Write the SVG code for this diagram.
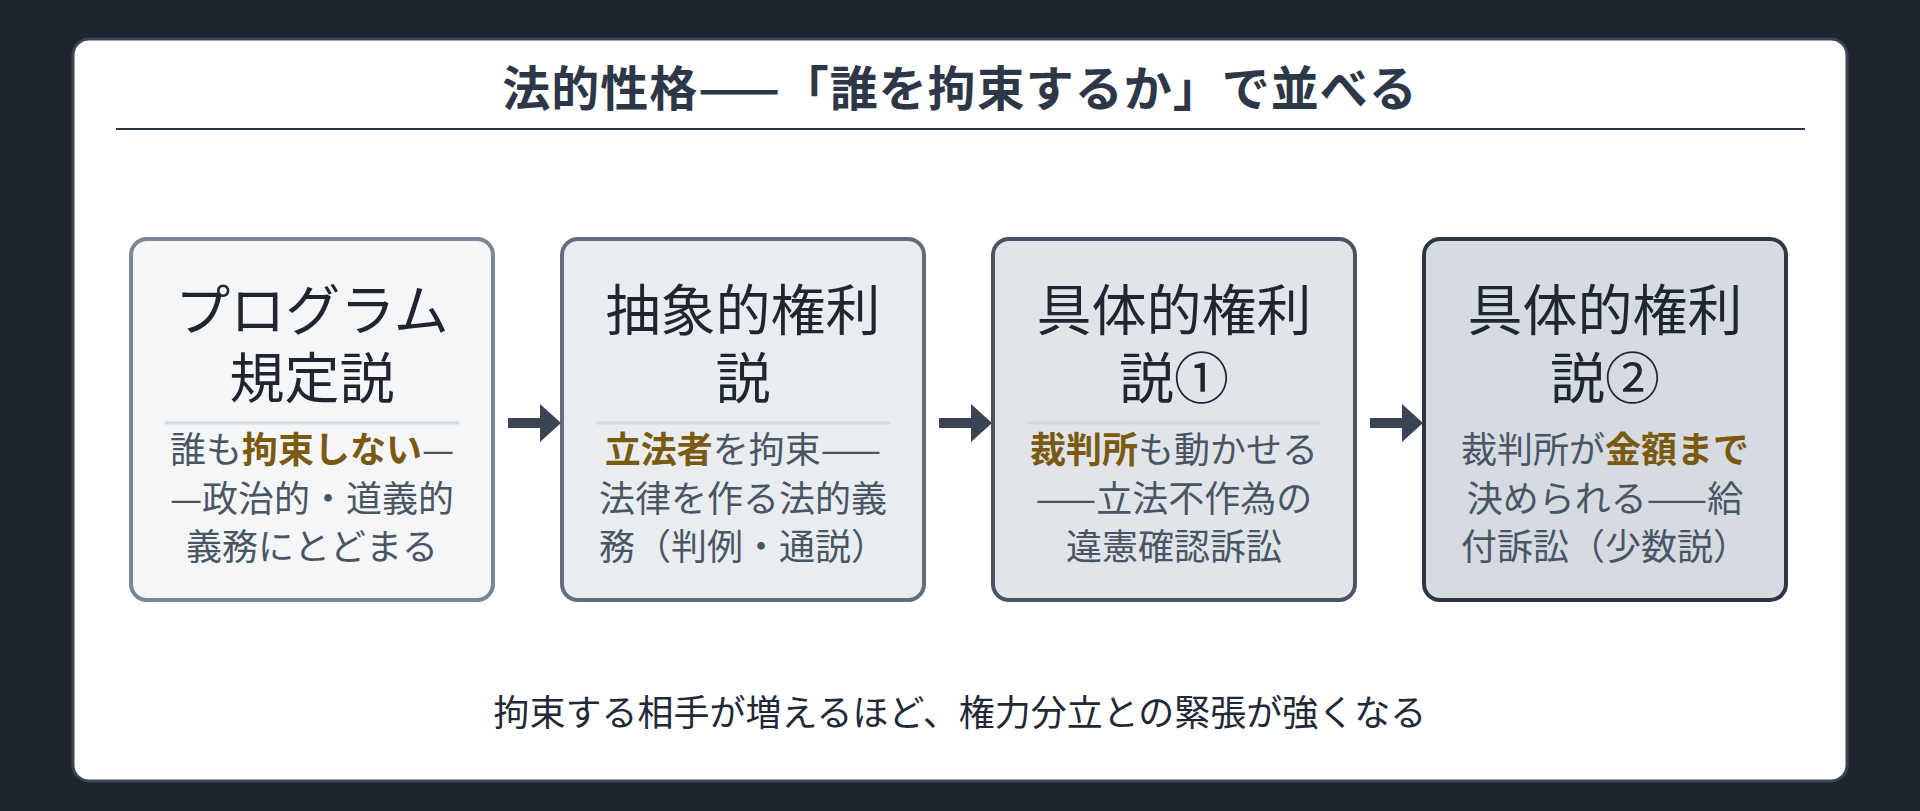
<svg xmlns="http://www.w3.org/2000/svg" width="1920" height="811" viewBox="0 0 1920 811">
<style>
text{font-family:"Noto Sans CJK JP","Noto Sans",sans-serif}
.t{font-size:55px;fill:#1f2630;text-anchor:middle}
.s{font-size:36px;fill:#4a5563;text-anchor:middle}
.h{fill:#7a5a10;font-weight:bold}
.sep{stroke:#d6d9dd;stroke-width:3}
.ar{fill:#3a4452}
</style>
<rect width="1920" height="811" fill="#1e2530"/>
<rect x="73" y="39" width="1774" height="742" rx="16" fill="#ffffff" stroke="#3a4452" stroke-width="3"/>
<text x="960" y="106" font-size="48" font-weight="bold" fill="#2d3748" text-anchor="middle" letter-spacing="1">法的性格——「誰を拘束するか」で並べる</text>
<line x1="116" y1="129" x2="1805" y2="129" stroke="#2d3748" stroke-width="2"/>
<g id="n1">
<rect x="131" y="239" width="362" height="361" rx="16" fill="#f4f6f8" stroke="#7b8594" stroke-width="4"/>
<text class="t" x="312" y="330">プログラム</text><text class="t" x="312" y="398">規定説</text>
<line class="sep" x1="165" y1="423" x2="459" y2="423"/>
<text class="s" x="312" y="463">誰も<tspan class="h">拘束しない</tspan>—</text>
<text class="s" x="312" y="512">—政治的・道義的</text>
<text class="s" x="312" y="560">義務にとどまる</text>
</g>
<g id="n2">
<rect x="562" y="239" width="362" height="361" rx="16" fill="#e9edf0" stroke="#626c7a" stroke-width="4"/>
<text class="t" x="743" y="330">抽象的権利</text><text class="t" x="743" y="398">説</text>
<line class="sep" x1="596" y1="423" x2="890" y2="423"/>
<text class="s" x="743" y="463"><tspan class="h">立法者</tspan>を拘束——</text>
<text class="s" x="743" y="512">法律を作る法的義</text>
<text class="s" x="743" y="560">務（判例・通説）</text>
</g>
<g id="n3">
<rect x="993" y="239" width="362" height="361" rx="16" fill="#e1e5ea" stroke="#4a5462" stroke-width="4"/>
<text class="t" x="1174" y="330">具体的権利</text><text class="t" x="1174" y="398">説①</text>
<line class="sep" x1="1027" y1="423" x2="1321" y2="423"/>
<text class="s" x="1174" y="463"><tspan class="h">裁判所</tspan>も動かせる</text>
<text class="s" x="1174" y="512">——立法不作為の</text>
<text class="s" x="1174" y="560">違憲確認訴訟</text>
</g>
<g id="n4">
<rect x="1424" y="239" width="362" height="361" rx="16" fill="#d6dae1" stroke="#2d3643" stroke-width="4"/>
<text class="t" x="1605" y="330">具体的権利</text><text class="t" x="1605" y="398">説②</text>
<line class="sep" x1="1458" y1="423" x2="1752" y2="423"/>
<text class="s" x="1605" y="463">裁判所が<tspan class="h">金額まで</tspan></text>
<text class="s" x="1605" y="512">決められる——給</text>
<text class="s" x="1605" y="560">付訴訟（少数説）</text>
</g>
<g id="connectors">
<path class="ar" d="M508 418h32v-14l21 19l-21 19v-14h-32z"/>
<path class="ar" d="M939 418h32v-14l21 19l-21 19v-14h-32z"/>
<path class="ar" d="M1370 418h32v-14l21 19l-21 19v-14h-32z"/>
</g>
<text x="960" y="726" font-size="36" fill="#1f2937" text-anchor="middle">拘束する相手が増えるほど、権力分立との緊張が強くなる</text>
</svg>
